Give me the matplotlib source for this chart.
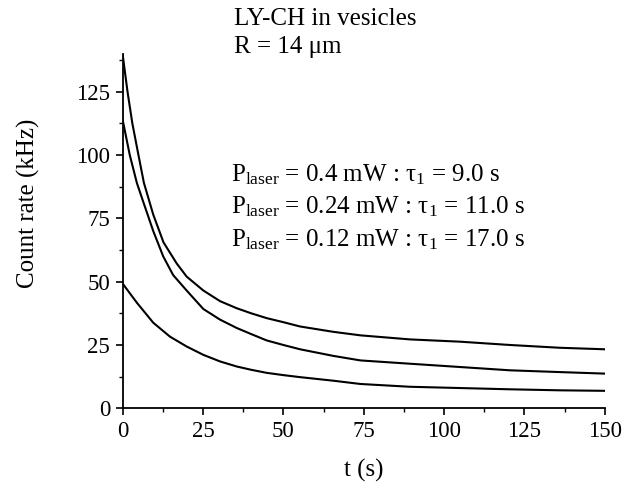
import matplotlib
matplotlib.use("Agg")
import matplotlib.pyplot as plt
from matplotlib.ticker import MultipleLocator

plt.rcParams['font.family'] = ['Liberation Serif', 'DejaVu Serif']
plt.rcParams['mathtext.fontset'] = 'custom'
plt.rcParams['mathtext.rm'] = 'Liberation Serif'
plt.rcParams['mathtext.it'] = 'Liberation Serif:italic'

# ---- data ----
t_high = [0, 1.5, 3.0, 4.9, 6.6, 9.5, 12.7, 16.8, 19.9, 25.1, 30.3, 35.5, 40, 44.8,
          50, 55.2, 65.5, 74, 89.4, 105, 120.5, 136, 150]
rate_high = [139.5, 125, 112.5, 100, 89, 76.5, 65.5, 57.2, 52, 46.5, 42.3, 39.5, 37.5,
             35.6, 34, 32.3, 30.2, 28.8, 27.2, 26.3, 25, 23.9, 23.3]

t_mid = [0, 2.2, 4.4, 6.4, 9.5, 12.6, 15.7, 19.9, 25.1, 30.3, 35.5, 40, 44.8, 50,
         55.2, 65.5, 74, 89.4, 105, 120.5, 136, 150]
rate_mid = [113.8, 100, 89, 81.5, 70, 60, 52.6, 46.5, 39.2, 35, 31.7, 29.3, 26.8,
            25, 23.3, 20.7, 18.9, 17.6, 16.3, 15, 14.3, 13.7]

t_low = [0, 4.4, 9.5, 14.7, 19.9, 25.1, 30.3, 35.5, 40, 44.8, 50, 55.2, 65.5,
         74, 89.4, 105, 120.5, 136, 150]
rate_low = [49.2, 41.7, 33.8, 28.3, 24.4, 21.1, 18.5, 16.5, 15.2, 14.0, 13.1, 12.3,
            10.9, 9.6, 8.5, 8.0, 7.5, 7.1, 6.9]

x_ticks = [0, 25, 50, 75, 100, 125, 150]
y_ticks = [0, 25, 50, 75, 100, 125]

title_lines = ["LY-CH in vesicles", "R = 14 \u03bcm"]
annot_lines = [
    r"$\mathregular{P_{laser}}$ = 0.4 mW : $\mathregular{\tau_1}$ = 9.0 s",
    r"$\mathregular{P_{laser}}$ = 0.24 mW : $\mathregular{\tau_1}$ = 11.0 s",
    r"$\mathregular{P_{laser}}$ = 0.12 mW : $\mathregular{\tau_1}$ = 17.0 s",
]

W, H = 636, 492
fig = plt.figure(figsize=(W / 100, H / 100), dpi=100)
ax = fig.add_axes([122.7 / W, (H - 408.3) / H, 482 / W, (408.3 - 53.7) / H])

for t, r in [(t_high, rate_high), (t_mid, rate_mid), (t_low, rate_low)]:
    ax.plot(t, r, color='black', lw=1.5)

ax.set_xlim(0, 150)
ax.set_ylim(0, 140)
ax.set_xticks(x_ticks)
ax.set_yticks(y_ticks)
ax.xaxis.set_minor_locator(MultipleLocator(12.5))
ax.yaxis.set_minor_locator(MultipleLocator(12.5))
for s in ['top', 'right']:
    ax.spines[s].set_visible(False)
for s in ['left', 'bottom']:
    ax.spines[s].set_linewidth(1.3)
ax.tick_params(which='major', direction='out', length=5, width=1.2, labelsize=16.5, pad=4)
ax.tick_params(which='minor', direction='out', length=3, width=1.0)

fs = 18
ax.set_xlabel("t (s)", fontsize=fs, labelpad=12)
fig.text(28 / W, 1 - 203 / H, "Count rate (kHz)", fontsize=fs, rotation=90,
         ha='center', va='center')

fig.text(234 / W, 1 - 25 / H, title_lines[0], fontsize=fs, va='baseline', ha='left')
fig.text(234 / W, 1 - 53 / H, title_lines[1], fontsize=fs, va='baseline', ha='left')
for i, yb in enumerate([181.7, 213.5, 246.5]):
    fig.text(231 / W, 1 - yb / H, annot_lines[i], fontsize=fs, va='baseline', ha='left')

fig.savefig("out.png", dpi=100)
